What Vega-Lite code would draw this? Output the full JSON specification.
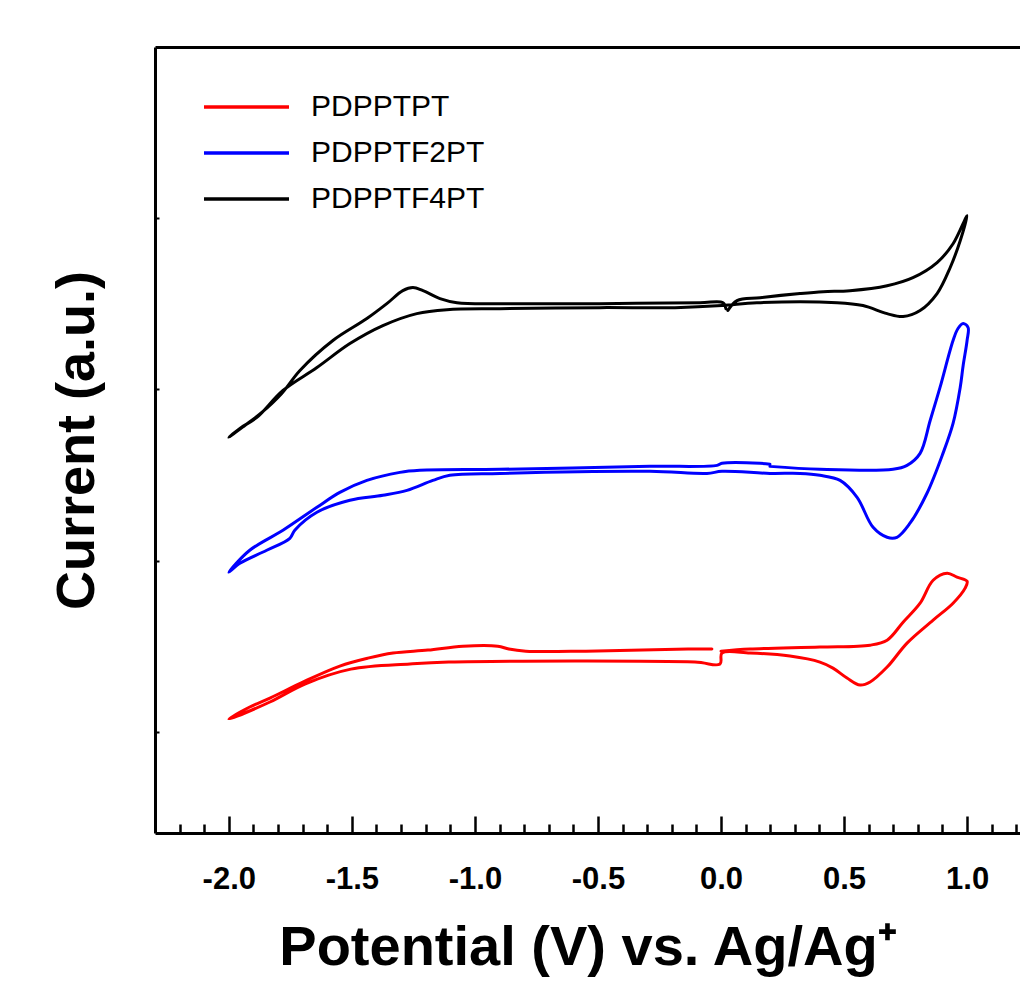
{
  "$schema": "https://vega.github.io/schema/vega-lite/v6.json",
  "width": 865,
  "height": 786,
  "autosize": {"type": "none"},
  "padding": {"left": 155, "top": 47, "right": 0, "bottom": 156},
  "background": "white",
  "config": {"view": {"stroke": null}, "font": "Liberation Sans"},
  "datasets": {
    "cv": [
      {"s":"PDPPTF4PT","i":1,"x":0.028,"y":3.461},
      {"s":"PDPPTF4PT","i":2,"x":0.065,"y":3.519},
      {"s":"PDPPTF4PT","i":3,"x":0.159,"y":3.536},
      {"s":"PDPPTF4PT","i":4,"x":0.321,"y":3.560},
      {"s":"PDPPTF4PT","i":5,"x":0.415,"y":3.571},
      {"s":"PDPPTF4PT","i":6,"x":0.524,"y":3.577},
      {"s":"PDPPTF4PT","i":7,"x":0.675,"y":3.606},
      {"s":"PDPPTF4PT","i":8,"x":0.780,"y":3.653},
      {"s":"PDPPTF4PT","i":9,"x":0.878,"y":3.741},
      {"s":"PDPPTF4PT","i":10,"x":0.943,"y":3.851},
      {"s":"PDPPTF4PT","i":11,"x":1.000,"y":4.015},
      {"s":"PDPPTF4PT","i":12,"x":0.972,"y":3.869},
      {"s":"PDPPTF4PT","i":13,"x":0.931,"y":3.711},
      {"s":"PDPPTF4PT","i":14,"x":0.878,"y":3.560},
      {"s":"PDPPTF4PT","i":15,"x":0.809,"y":3.461},
      {"s":"PDPPTF4PT","i":16,"x":0.740,"y":3.426},
      {"s":"PDPPTF4PT","i":17,"x":0.675,"y":3.443},
      {"s":"PDPPTF4PT","i":18,"x":0.577,"y":3.490},
      {"s":"PDPPTF4PT","i":19,"x":0.472,"y":3.507},
      {"s":"PDPPTF4PT","i":20,"x":0.146,"y":3.507},
      {"s":"PDPPTF4PT","i":21,"x":0.004,"y":3.490},
      {"s":"PDPPTF4PT","i":22,"x":-0.187,"y":3.478},
      {"s":"PDPPTF4PT","i":23,"x":-0.492,"y":3.478},
      {"s":"PDPPTF4PT","i":24,"x":-0.898,"y":3.472},
      {"s":"PDPPTF4PT","i":25,"x":-1.114,"y":3.466},
      {"s":"PDPPTF4PT","i":26,"x":-1.236,"y":3.443},
      {"s":"PDPPTF4PT","i":27,"x":-1.374,"y":3.373},
      {"s":"PDPPTF4PT","i":28,"x":-1.508,"y":3.268},
      {"s":"PDPPTF4PT","i":29,"x":-1.642,"y":3.128},
      {"s":"PDPPTF4PT","i":30,"x":-1.780,"y":2.994},
      {"s":"PDPPTF4PT","i":31,"x":-1.886,"y":2.837},
      {"s":"PDPPTF4PT","i":32,"x":-1.955,"y":2.773},
      {"s":"PDPPTF4PT","i":33,"x":-2.000,"y":2.720},
      {"s":"PDPPTF4PT","i":34,"x":-1.935,"y":2.790},
      {"s":"PDPPTF4PT","i":35,"x":-1.866,"y":2.866},
      {"s":"PDPPTF4PT","i":36,"x":-1.785,"y":2.977},
      {"s":"PDPPTF4PT","i":37,"x":-1.711,"y":3.111},
      {"s":"PDPPTF4PT","i":38,"x":-1.577,"y":3.286},
      {"s":"PDPPTF4PT","i":39,"x":-1.439,"y":3.414},
      {"s":"PDPPTF4PT","i":40,"x":-1.358,"y":3.501},
      {"s":"PDPPTF4PT","i":41,"x":-1.293,"y":3.577},
      {"s":"PDPPTF4PT","i":42,"x":-1.252,"y":3.595},
      {"s":"PDPPTF4PT","i":43,"x":-1.211,"y":3.577},
      {"s":"PDPPTF4PT","i":44,"x":-1.142,"y":3.531},
      {"s":"PDPPTF4PT","i":45,"x":-1.073,"y":3.507},
      {"s":"PDPPTF4PT","i":46,"x":-0.898,"y":3.501},
      {"s":"PDPPTF4PT","i":47,"x":-0.492,"y":3.501},
      {"s":"PDPPTF4PT","i":48,"x":-0.085,"y":3.507},
      {"s":"PDPPTF4PT","i":49,"x":0.008,"y":3.507},
      {"s":"PDPPTF4PT","i":50,"x":0.020,"y":3.472},

      {"s":"PDPPTF2PT","i":1,"x":0.199,"y":2.551},
      {"s":"PDPPTF2PT","i":2,"x":0.402,"y":2.534},
      {"s":"PDPPTF2PT","i":3,"x":0.699,"y":2.534},
      {"s":"PDPPTF2PT","i":4,"x":0.756,"y":2.557},
      {"s":"PDPPTF2PT","i":5,"x":0.809,"y":2.627},
      {"s":"PDPPTF2PT","i":6,"x":0.850,"y":2.819},
      {"s":"PDPPTF2PT","i":7,"x":0.890,"y":3.012},
      {"s":"PDPPTF2PT","i":8,"x":0.943,"y":3.286},
      {"s":"PDPPTF2PT","i":9,"x":0.963,"y":3.356},
      {"s":"PDPPTF2PT","i":10,"x":0.984,"y":3.385},
      {"s":"PDPPTF2PT","i":11,"x":1.004,"y":3.362},
      {"s":"PDPPTF2PT","i":12,"x":1.000,"y":3.286},
      {"s":"PDPPTF2PT","i":13,"x":0.984,"y":3.140},
      {"s":"PDPPTF2PT","i":14,"x":0.972,"y":3.012},
      {"s":"PDPPTF2PT","i":15,"x":0.943,"y":2.802},
      {"s":"PDPPTF2PT","i":16,"x":0.902,"y":2.627},
      {"s":"PDPPTF2PT","i":17,"x":0.837,"y":2.394},
      {"s":"PDPPTF2PT","i":18,"x":0.768,"y":2.219},
      {"s":"PDPPTF2PT","i":19,"x":0.715,"y":2.137},
      {"s":"PDPPTF2PT","i":20,"x":0.675,"y":2.137},
      {"s":"PDPPTF2PT","i":21,"x":0.618,"y":2.195},
      {"s":"PDPPTF2PT","i":22,"x":0.553,"y":2.370},
      {"s":"PDPPTF2PT","i":23,"x":0.484,"y":2.469},
      {"s":"PDPPTF2PT","i":24,"x":0.402,"y":2.499},
      {"s":"PDPPTF2PT","i":25,"x":0.321,"y":2.510},
      {"s":"PDPPTF2PT","i":26,"x":0.199,"y":2.510},
      {"s":"PDPPTF2PT","i":27,"x":0.004,"y":2.522},
      {"s":"PDPPTF2PT","i":28,"x":-0.057,"y":2.510},
      {"s":"PDPPTF2PT","i":29,"x":-0.289,"y":2.522},
      {"s":"PDPPTF2PT","i":30,"x":-0.898,"y":2.510},
      {"s":"PDPPTF2PT","i":31,"x":-1.102,"y":2.499},
      {"s":"PDPPTF2PT","i":32,"x":-1.171,"y":2.469},
      {"s":"PDPPTF2PT","i":33,"x":-1.276,"y":2.411},
      {"s":"PDPPTF2PT","i":34,"x":-1.374,"y":2.382},
      {"s":"PDPPTF2PT","i":35,"x":-1.508,"y":2.353},
      {"s":"PDPPTF2PT","i":36,"x":-1.642,"y":2.283},
      {"s":"PDPPTF2PT","i":37,"x":-1.732,"y":2.178},
      {"s":"PDPPTF2PT","i":38,"x":-1.752,"y":2.131},
      {"s":"PDPPTF2PT","i":39,"x":-1.846,"y":2.061},
      {"s":"PDPPTF2PT","i":40,"x":-1.955,"y":1.985},
      {"s":"PDPPTF2PT","i":41,"x":-2.000,"y":1.933},
      {"s":"PDPPTF2PT","i":42,"x":-1.915,"y":2.061},
      {"s":"PDPPTF2PT","i":43,"x":-1.780,"y":2.178},
      {"s":"PDPPTF2PT","i":44,"x":-1.642,"y":2.312},
      {"s":"PDPPTF2PT","i":45,"x":-1.549,"y":2.399},
      {"s":"PDPPTF2PT","i":46,"x":-1.439,"y":2.469},
      {"s":"PDPPTF2PT","i":47,"x":-1.305,"y":2.516},
      {"s":"PDPPTF2PT","i":48,"x":-1.224,"y":2.528},
      {"s":"PDPPTF2PT","i":49,"x":-0.898,"y":2.534},
      {"s":"PDPPTF2PT","i":50,"x":-0.289,"y":2.551},
      {"s":"PDPPTF2PT","i":51,"x":-0.016,"y":2.557},
      {"s":"PDPPTF2PT","i":52,"x":0.004,"y":2.569},
      {"s":"PDPPTF2PT","i":53,"x":0.159,"y":2.569},
      {"s":"PDPPTF2PT","i":54,"x":0.199,"y":2.563},

      {"s":"PDPPTPT","i":1,"x":0.000,"y":1.472},
      {"s":"PDPPTPT","i":2,"x":0.118,"y":1.484},
      {"s":"PDPPTPT","i":3,"x":0.402,"y":1.496},
      {"s":"PDPPTPT","i":4,"x":0.606,"y":1.507},
      {"s":"PDPPTPT","i":5,"x":0.675,"y":1.536},
      {"s":"PDPPTPT","i":6,"x":0.740,"y":1.641},
      {"s":"PDPPTPT","i":7,"x":0.809,"y":1.752},
      {"s":"PDPPTPT","i":8,"x":0.862,"y":1.886},
      {"s":"PDPPTPT","i":9,"x":0.919,"y":1.927},
      {"s":"PDPPTPT","i":10,"x":0.959,"y":1.904},
      {"s":"PDPPTPT","i":11,"x":1.000,"y":1.880},
      {"s":"PDPPTPT","i":12,"x":0.992,"y":1.840},
      {"s":"PDPPTPT","i":13,"x":0.943,"y":1.752},
      {"s":"PDPPTPT","i":14,"x":0.862,"y":1.653},
      {"s":"PDPPTPT","i":15,"x":0.756,"y":1.519},
      {"s":"PDPPTPT","i":16,"x":0.675,"y":1.379},
      {"s":"PDPPTPT","i":17,"x":0.606,"y":1.292},
      {"s":"PDPPTPT","i":18,"x":0.565,"y":1.274},
      {"s":"PDPPTPT","i":19,"x":0.512,"y":1.315},
      {"s":"PDPPTPT","i":20,"x":0.455,"y":1.373},
      {"s":"PDPPTPT","i":21,"x":0.402,"y":1.408},
      {"s":"PDPPTPT","i":22,"x":0.280,"y":1.443},
      {"s":"PDPPTPT","i":23,"x":0.118,"y":1.461},
      {"s":"PDPPTPT","i":24,"x":0.004,"y":1.461},
      {"s":"PDPPTPT","i":25,"x":-0.004,"y":1.397},
      {"s":"PDPPTPT","i":26,"x":-0.106,"y":1.408},
      {"s":"PDPPTPT","i":27,"x":-1.106,"y":1.408},
      {"s":"PDPPTPT","i":28,"x":-1.264,"y":1.397},
      {"s":"PDPPTPT","i":29,"x":-1.504,"y":1.367},
      {"s":"PDPPTPT","i":30,"x":-1.691,"y":1.280},
      {"s":"PDPPTPT","i":31,"x":-1.833,"y":1.175},
      {"s":"PDPPTPT","i":32,"x":-2.000,"y":1.076},
      {"s":"PDPPTPT","i":33,"x":-1.915,"y":1.146},
      {"s":"PDPPTPT","i":34,"x":-1.833,"y":1.198},
      {"s":"PDPPTPT","i":35,"x":-1.691,"y":1.297},
      {"s":"PDPPTPT","i":36,"x":-1.549,"y":1.385},
      {"s":"PDPPTPT","i":37,"x":-1.435,"y":1.431},
      {"s":"PDPPTPT","i":38,"x":-1.333,"y":1.461},
      {"s":"PDPPTPT","i":39,"x":-1.191,"y":1.478},
      {"s":"PDPPTPT","i":40,"x":-1.049,"y":1.501},
      {"s":"PDPPTPT","i":41,"x":-0.907,"y":1.501},
      {"s":"PDPPTPT","i":42,"x":-0.862,"y":1.484},
      {"s":"PDPPTPT","i":43,"x":-0.793,"y":1.472},
      {"s":"PDPPTPT","i":44,"x":-0.549,"y":1.472},
      {"s":"PDPPTPT","i":45,"x":-0.134,"y":1.484},
      {"s":"PDPPTPT","i":46,"x":-0.037,"y":1.484}
    ]
  },
  "data": {"name": "cv"},
  "layer": [
    {
      "mark": {"type": "line", "strokeWidth": 3, "strokeJoin": "round", "strokeCap": "round", "interpolate": "catmull-rom"},
      "encoding": {
        "x": {
          "field": "x", "type": "quantitative",
          "scale": {"domain": [-2.3, 1.215], "nice": false, "zero": false},
          "axis": {
            "orient": "bottom", "grid": false,
            "values": [-2, -1.5, -1, -0.5, 0, 0.5, 1], "format": ".1f",
            "labelExpr": "replace(datum.label, '−', '-')",
            "tickSize": -17, "tickWidth": 2.5, "tickColor": "black",
            "domainWidth": 3, "domainColor": "black",
            "labelFont": "Liberation Sans", "labelFontWeight": "bold", "labelFontSize": 31,
            "labelColor": "black", "labelPadding": 48, "labelFlush": false,
            "title": "Potential (V) vs. Ag/Ag⁺",
            "titleFont": "Liberation Sans", "titleFontSize": 56, "titleFontWeight": "bold",
            "titleColor": "black", "titlePadding": 26
          }
        },
        "y": {
          "field": "y", "type": "quantitative",
          "scale": {"domain": [0.41, 5.0], "nice": false, "zero": false},
          "axis": {
            "orient": "left", "grid": false, "values": [1, 2, 3, 4], "labels": false,
            "tickSize": -4, "tickWidth": 2, "tickColor": "black",
            "domainWidth": 3, "domainColor": "black",
            "title": "Current (a.u.)",
            "titleFont": "Liberation Sans", "titleFontSize": 54, "titleFontWeight": "bold",
            "titleColor": "black", "titlePadding": 50
          }
        },
        "color": {
          "field": "s", "type": "nominal",
          "scale": {"domain": ["PDPPTPT", "PDPPTF2PT", "PDPPTF4PT"], "range": ["#ff0000", "#0000ff", "#000000"]},
          "legend": {
            "orient": "none", "legendX": 47, "legendY": 43, "title": null, "padding": 0,
            "symbolType": "stroke", "symbolSize": 7225, "symbolStrokeWidth": 3.5,
            "clipHeight": 34, "rowPadding": 12,
            "labelFont": "Liberation Sans", "labelFontSize": 30, "labelColor": "black",
            "labelOffset": 20, "labelLimit": 0
          }
        },
        "order": {"field": "i", "type": "quantitative"}
      }
    },
    {
      "mark": {"type": "point", "opacity": 0},
      "encoding": {
        "x": {
          "field": "x", "type": "quantitative",
          "axis": {
            "orient": "bottom", "grid": false, "domain": false, "labels": false, "title": null,
            "values": [-2.2, -2.1, -1.9, -1.8, -1.7, -1.6, -1.4, -1.3, -1.2, -1.1, -0.9, -0.8, -0.7, -0.6, -0.4, -0.3, -0.2, -0.1, 0.1, 0.2, 0.3, 0.4, 0.6, 0.7, 0.8, 0.9, 1.1, 1.2],
            "tickSize": -9, "tickWidth": 2.5, "tickColor": "black"
          }
        },
        "y": {
          "field": "y", "type": "quantitative",
          "axis": {
            "orient": "left", "grid": false, "values": [1, 2, 3, 4], "labels": false,
            "tickSize": -4, "tickWidth": 2, "tickColor": "black",
            "domainWidth": 3, "domainColor": "black",
            "title": "Current (a.u.)",
            "titleFont": "Liberation Sans", "titleFontSize": 54, "titleFontWeight": "bold",
            "titleColor": "black", "titlePadding": 50
          }
        }
      }
    },
    {
      "mark": {"type": "point", "opacity": 0},
      "encoding": {
        "x": {
          "field": "x", "type": "quantitative",
          "axis": {
            "orient": "top", "grid": false, "ticks": false, "labels": false, "title": null,
            "domainWidth": 3, "domainColor": "black"
          }
        },
        "y": {
          "field": "y", "type": "quantitative",
          "axis": {
            "orient": "left", "grid": false, "values": [1, 2, 3, 4], "labels": false,
            "tickSize": -4, "tickWidth": 2, "tickColor": "black",
            "domainWidth": 3, "domainColor": "black",
            "title": "Current (a.u.)",
            "titleFont": "Liberation Sans", "titleFontSize": 54, "titleFontWeight": "bold",
            "titleColor": "black", "titlePadding": 50
          }
        }
      }
    }
  ],
  "resolve": {"axis": {"x": "independent"}}
}
